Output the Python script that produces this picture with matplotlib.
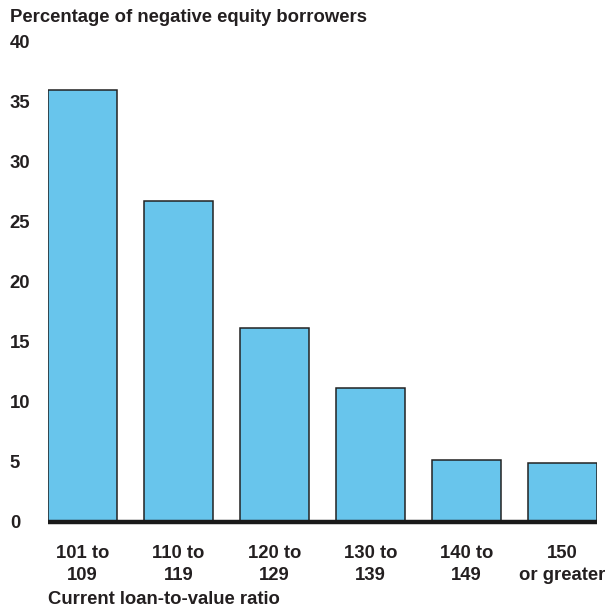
import matplotlib
matplotlib.use("Agg")
import matplotlib.pyplot as plt

categories = ["101 to\n109", "110 to\n119", "120 to\n129", "130 to\n139", "140 to\n149", "150\nor greater"]
shares = [35.9, 26.7, 16.1, 11.1, 5.1, 4.8]
yticks = [0, 5, 10, 15, 20, 25, 30, 35, 40]

plt.rcParams['font.family'] = ['Liberation Sans', 'DejaVu Sans']
plt.rcParams['font.weight'] = 'bold'
ink = '#231f20'
fs = 13.3

fig = plt.figure(figsize=(6.05, 6.11), dpi=100)
ax = fig.add_axes([48/605, 1 - 521/611, 549/605, 480/611])

x = list(range(len(categories)))
ax.bar(x, shares, width=0.72, color='#68c5ec', edgecolor='#222222', linewidth=1.1, zorder=2)
ax.axhline(-0.08, color='#1a1a1a', linewidth=3.2, zorder=3, clip_on=False,
           solid_capstyle='butt')

ax.set_xlim(-0.36, len(categories) - 1 + 0.36)
ax.set_ylim(0, 40)
for s in ax.spines.values():
    s.set_visible(False)

ax.set_yticks(yticks)
ax.set_yticklabels([str(v) for v in yticks], fontsize=fs, color=ink, ha='left')
ax.tick_params(axis='y', length=0, pad=27.5)
ax.set_xticks(x)
ax.set_xticklabels(categories, fontsize=fs, color=ink, linespacing=1.33)
ax.tick_params(axis='x', length=0, pad=17.5)

fig.text(10/605, 1 - 17/611, "Percentage of negative equity borrowers",
         fontsize=fs, color=ink, ha='left', va='center')
fig.text(48/605, 1 - 600/611, "Current loan-to-value ratio",
         fontsize=fs, color=ink, ha='left', va='center')

fig.savefig("out.png", dpi=100)
